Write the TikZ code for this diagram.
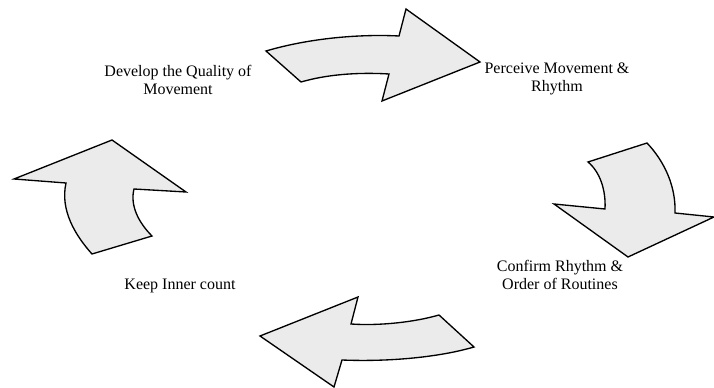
\documentclass[tikz,border=0pt]{standalone}
\usepackage{fontspec}
\setmainfont{Liberation Serif}
\usetikzlibrary{positioning}
\definecolor{ArrowFill}{RGB}{235,235,235}

\begin{document}
\begin{tikzpicture}[x=0.75pt, y=-0.75pt, font=\fontsize{12}{13.5}\selectfont, every node/.style={align=center}]
\tikzset{
  blockarr/.style={draw=black, fill=ArrowFill, line width=1pt, line join=miter},
  caption/.style={inner sep=0pt}
}
  \useasboundingbox (0,0) rectangle (714,388);

  % the four steps
  \node[caption] (quality) at (178,80) {Develop the Quality of\\Movement};
  \node[caption] (perceive) at (557,79) {Perceive Movement \&\\Rhythm};
  \node[caption] (confirm) at (560,275) {Confirm Rhythm \&\\Order of Routines};
  \node[caption] (inner) at (180,286) {Keep Inner count};

  % top arrow
  \draw[blockarr] (266,51) .. controls (310,38) and (360,34) .. (399,36) -- (406,9) -- (480,62)
    -- (382,101) -- (389,74) .. controls (355,72) and (325,75) .. (301,82) -- cycle;
  % right arrow
  \draw[blockarr] (588,162) -- (647,143) .. controls (665,162) and (676,187) .. (675,213)
    -- (714,217) -- (628,257) -- (554,204) -- (605,209) .. controls (606,190) and (600,172) .. (588,162) -- cycle;
  % bottom arrow
  \draw[blockarr] (260,336) -- (358,297) -- (351,324) .. controls (380,326) and (415,322) .. (439,315)
    -- (474,347) .. controls (440,357) and (390,362) .. (342,360) -- (334,387) -- cycle;
  % left arrow
  \draw[blockarr] (14,179) -- (112,140) -- (186,192) -- (134,189) .. controls (130,205) and (138,222) .. (152,236)
    -- (92,254) .. controls (75,235) and (60,210) .. (66,183) -- cycle;
\end{tikzpicture}
\end{document}
